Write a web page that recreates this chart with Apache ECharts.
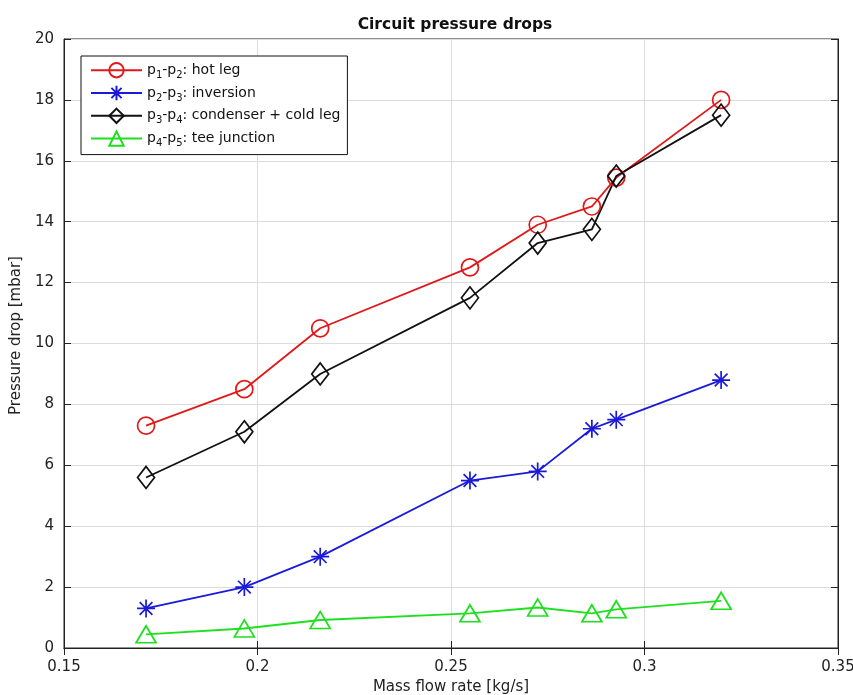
<!DOCTYPE html>
<html>
<head>
<meta charset="utf-8">
<script src="https://cdn.jsdelivr.net/npm/echarts@6/dist/echarts.min.js"></script>
<style>html,body{margin:0;padding:0;background:#fff}#c{width:853px;height:695px}</style>
</head>
<body>
<div id="c"></div>
<script>
const massFlow = [0.1712, 0.1966, 0.2162, 0.2549, 0.2724, 0.2864, 0.2927, 0.3198];
const hotLeg = [7.3, 8.5, 10.5, 12.5, 13.9, 14.5, 15.45, 18.0];
const inversion = [1.3, 2.0, 3.0, 5.5, 5.8, 7.2, 7.5, 8.8];
const condenserColdLeg = [5.6, 7.1, 9.0, 11.5, 13.3, 13.75, 15.5, 17.5];
const teeJunction = [0.45, 0.64, 0.92, 1.14, 1.33, 1.14, 1.27, 1.55];
const seriesNames = ['p{s|1}-p{s|2}: hot leg', 'p{s|2}-p{s|3}: inversion', 'p{s|3}-p{s|4}: condenser + cold leg', 'p{s|4}-p{s|5}: tee junction'];

const FONT = 'DejaVu Sans';
const asterisk = 'path://M0,-10L0,10M-10,0L10,0M-7.07,-7.07L7.07,7.07M-7.07,7.07L7.07,-7.07';
const pairs = ys => massFlow.map((x, i) => [x, ys[i]]);

function mk(name, ys, color, symbol, size) {
  return {
    name: name, type: 'line', data: pairs(ys),
    symbol: symbol, symbolSize: size,
    lineStyle: { color: color, width: 1.8 },
    itemStyle: { color: 'rgba(255,255,255,0)', borderColor: color, borderWidth: 1.7 },
    emphasis: { disabled: true }, animation: false, z: 3
  };
}

const chart = echarts.init(document.getElementById('c'));
chart.setOption({
  backgroundColor: '#fff',
  title: {
    text: 'Circuit pressure drops', left: 450, top: 12, textAlign: 'center',
    textStyle: { fontFamily: FONT, fontSize: 15.5, fontWeight: 'bold', color: '#111' }
  },
  legend: {
    left: 81, top: 56, orient: 'vertical', itemWidth: 51, itemHeight: 18, itemGap: 4.6,
    padding: [6, 7, 6, 9],
    borderColor: '#111', borderWidth: 1, backgroundColor: '#fff',
    data: seriesNames,
    textStyle: {
      fontFamily: FONT, fontSize: 14, color: '#111',
      rich: { s: { fontFamily: FONT, fontSize: 10, color: '#111', padding: [10, 0, 0, 0] } }
    }
  },
  grid: { left: 64, right: 15, top: 39, bottom: 47, outerBoundsMode: 'none', containLabel: false,
    show: true, borderColor: '#222', borderWidth: 1 },
  xAxis: [{
    type: 'value', min: 0.15, max: 0.35, interval: 0.05,
    name: 'Mass flow rate [kg/s]', nameLocation: 'middle', nameGap: 23,
    nameTextStyle: { fontFamily: FONT, fontSize: 15, color: '#222' },
    axisLine: { show: true, lineStyle: { color: '#222' } },
    axisTick: { show: true, inside: true, length: 7, lineStyle: { color: '#222' } },
    axisLabel: { fontFamily: FONT, fontSize: 15, color: '#222', margin: 12,
      formatter: v => String(parseFloat(v.toFixed(2))) },
    splitLine: { show: true, lineStyle: { color: '#dcdcdc', width: 1 } }
  }, {
    type: 'value', position: 'top', min: 0.15, max: 0.35, interval: 0.05,
    axisLine: { show: true, lineStyle: { color: '#222' } },
    axisTick: { show: true, inside: true, length: 7, lineStyle: { color: '#222' } },
    axisLabel: { show: false }, splitLine: { show: false }
  }],
  yAxis: [{
    type: 'value', min: 0, max: 20, interval: 2,
    name: 'Pressure drop [mbar]', nameLocation: 'middle', nameGap: 32,
    nameTextStyle: { fontFamily: FONT, fontSize: 15, color: '#222', padding: [0, 0, 0, 16] },
    axisLine: { show: true, lineStyle: { color: '#222' } },
    axisTick: { show: true, inside: true, length: 7, lineStyle: { color: '#222' } },
    axisLabel: { fontFamily: FONT, fontSize: 15, color: '#222', margin: 10 },
    splitLine: { show: true, lineStyle: { color: '#dcdcdc', width: 1 } }
  }, {
    type: 'value', position: 'right', min: 0, max: 20, interval: 2,
    axisLine: { show: true, lineStyle: { color: '#222' } },
    axisTick: { show: true, inside: true, length: 7, lineStyle: { color: '#222' } },
    axisLabel: { show: false }, splitLine: { show: false }
  }],
  series: [
    mk(seriesNames[0], hotLeg, '#e01818', 'circle', 17),
    mk(seriesNames[1], inversion, '#1a1ad8', asterisk, 18),
    mk(seriesNames[2], condenserColdLeg, '#111111', 'diamond', [17, 22]),
    mk(seriesNames[3], teeJunction, '#1ee01e', 'triangle', [20, 17])
  ]
});
</script>
</body>
</html>
